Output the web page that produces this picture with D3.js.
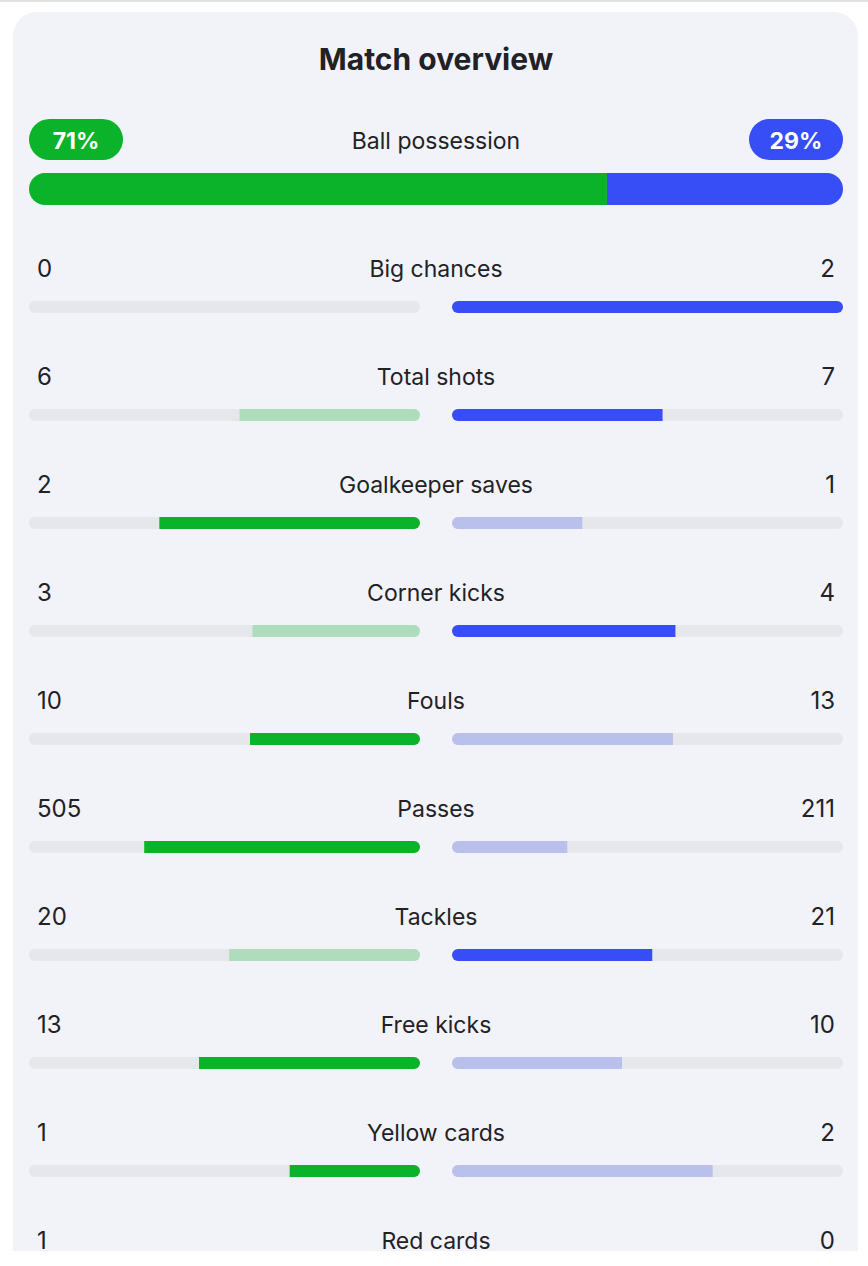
<!DOCTYPE html>
<html>
<head>
<meta charset="utf-8">
<script src="https://cdn.jsdelivr.net/npm/d3@7"></script>
<style>
  html, body { margin: 0; padding: 0; background: #ffffff; }
  svg { display: block; }
</style>
</head>
<body>
<div id="chart"></div>
<script>
// ---- Data ----
const title = "Match overview";
const possessionLabel = "Ball possession";
const possessionHome = 71;
const possessionAway = 29;

const categories = ["Big chances", "Total shots", "Goalkeeper saves", "Corner kicks", "Fouls",
                    "Passes", "Tackles", "Free kicks", "Yellow cards", "Red cards"];
const homeValues = [0, 6, 2, 3, 10, 505, 20, 13, 1, 1];
const awayValues = [2, 7, 1, 4, 13, 211, 21, 10, 2, 0];
// which side is highlighted (better) per category
const leader = ["away", "away", "home", "away", "home", "home", "away", "home", "home", "away"];

// ---- Styles ----
const W = 868, H = 1251;
const C = {
  page: "#ffffff", card: "#f2f3f8", text: "#222226", track: "#e6e7ea",
  home: "#0bb32a", homeLight: "#afdcba", away: "#374df5", awayLight: "#bac0ec"
};
const font = "Inter, 'Noto Sans', sans-serif";

const svg = d3.select("#chart").append("svg").attr("width", W).attr("height", H);

svg.append("rect").attr("x", 0).attr("y", 0).attr("width", W).attr("height", 2).attr("fill", "#e2e2e2");
svg.append("rect").attr("x", 13).attr("y", 12).attr("width", 845).attr("height", 1400)
   .attr("rx", 24).attr("fill", C.card);

svg.append("text").attr("x", 436).attr("y", 70).attr("text-anchor", "middle")
   .attr("font-family", font).attr("font-weight", 700).attr("font-size", 30)
   .attr("fill", C.text).text(title);

// ---- Possession ----
const left = 29, right = 843;
const possX = d3.scaleLinear().domain([0, 100]).range([left, right]);
const possY = 173, possH = 32;

svg.append("clipPath").attr("id", "possClip").append("rect")
  .attr("x", left).attr("y", possY).attr("width", right - left).attr("height", possH).attr("rx", 16);
const pg = svg.append("g").attr("clip-path", "url(#possClip)");
pg.append("rect").attr("x", possX(0)).attr("y", possY).attr("width", possX(possessionHome) - possX(0))
  .attr("height", possH).attr("fill", C.home);
pg.append("rect").attr("x", possX(possessionHome)).attr("y", possY)
  .attr("width", possX(100) - possX(possessionHome)).attr("height", possH).attr("fill", C.away);

const pillW = 94, pillH = 41, pillY = 119;
[[left, possessionHome, C.home], [right - pillW, possessionAway, C.away]].forEach(([x, v, col]) => {
  svg.append("rect").attr("x", x).attr("y", pillY).attr("width", pillW).attr("height", pillH)
     .attr("rx", 20.5).attr("fill", col);
  svg.append("text").attr("x", x + pillW / 2).attr("y", 149)
     .attr("text-anchor", "middle").attr("font-family", font).attr("font-weight", 700)
     .attr("font-size", 23).attr("fill", "#fff").text(v + "%");
});
svg.append("text").attr("x", 436).attr("y", 149).attr("text-anchor", "middle")
   .attr("font-family", font).attr("font-weight", 400).attr("font-size", 23)
   .attr("fill", C.text).text(possessionLabel);

// ---- Stat rows ----
const rowY = d3.scaleLinear().domain([0, 1]).range([277, 385]); // baseline of text per index
const trackW = 391, trackH = 12;
const homeEnd = 420, awayStart = 452;
const frac = d3.scaleLinear().domain([0, 1]).range([0, trackW]);

categories.forEach((cat, i) => {
  const h = homeValues[i], a = awayValues[i];
  const tot = h + a;
  const base = rowY(i);
  const g = svg.append("g");

  g.append("text").attr("x", 37).attr("y", base).attr("font-family", font).attr("font-size", 24)
   .attr("fill", C.text).text(h);
  g.append("text").attr("x", 835).attr("y", base).attr("text-anchor", "end").attr("font-family", font)
   .attr("font-size", 24).attr("fill", C.text).text(a);
  g.append("text").attr("x", 436).attr("y", base).attr("text-anchor", "middle").attr("font-family", font)
   .attr("font-weight", 400).attr("font-size", 23).attr("fill", C.text).text(cat);

  const by = base + 24;
  const idH = "clipH" + i, idA = "clipA" + i;
  svg.append("clipPath").attr("id", idH).append("rect").attr("x", homeEnd - trackW).attr("y", by)
     .attr("width", trackW).attr("height", trackH).attr("rx", 6);
  svg.append("clipPath").attr("id", idA).append("rect").attr("x", awayStart).attr("y", by)
     .attr("width", trackW).attr("height", trackH).attr("rx", 6);

  const hg = g.append("g").attr("clip-path", `url(#${idH})`);
  hg.append("rect").attr("x", homeEnd - trackW).attr("y", by).attr("width", trackW).attr("height", trackH).attr("fill", C.track);
  const hw = tot ? frac(h / tot) : 0;
  hg.append("rect").attr("x", homeEnd - hw).attr("y", by).attr("width", hw).attr("height", trackH)
    .attr("fill", leader[i] === "home" ? C.home : C.homeLight);

  const ag = g.append("g").attr("clip-path", `url(#${idA})`);
  ag.append("rect").attr("x", awayStart).attr("y", by).attr("width", trackW).attr("height", trackH).attr("fill", C.track);
  const aw = tot ? frac(a / tot) : 0;
  ag.append("rect").attr("x", awayStart).attr("y", by).attr("width", aw).attr("height", trackH)
    .attr("fill", leader[i] === "away" ? C.away : C.awayLight);
});
</script>
</body>
</html>
